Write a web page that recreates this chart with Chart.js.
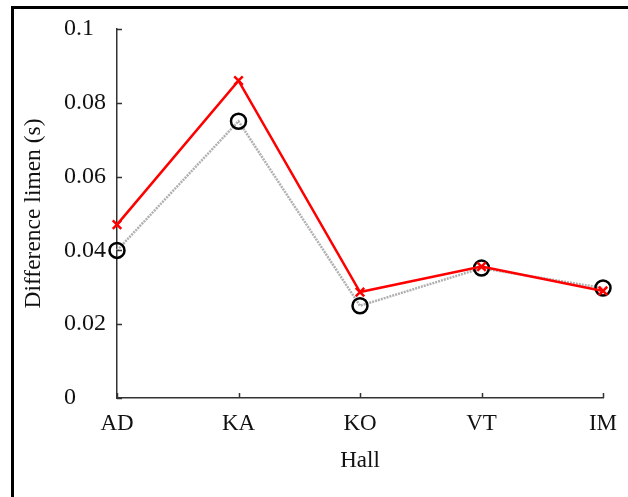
<!DOCTYPE html>
<html>
<head>
<meta charset="utf-8">
<script src="https://cdn.jsdelivr.net/npm/chart.js@4"></script>
<style>
  body{margin:0;background:#fff;overflow:hidden;}
  #wrap{width:628px;height:497px;position:relative;}
</style>
</head>
<body>
<div id="wrap"><canvas id="chart" width="628" height="497"></canvas></div>
<script>
let halls = ["AD","KA","KO","VT","IM"];
let redValues = [0.047,0.086,0.0287,0.0356,0.0290];
let grayValues = [0.040,0.075,0.0250,0.0352,0.0298];
let yTickLabels = ["0","0.02","0.04","0.06","0.08","0.1"];
let yTitle = "Difference limen (s)";
let xTitle = "Hall";

const serif = "'Liberation Serif','Times New Roman',serif";
const axisColor = "#333";

// frame, inward ticks and y title
const extras = {
    id:"extras",
    beforeDraw(chart){
        let ctx = chart.ctx;
        ctx.save();
        ctx.fillStyle = "#000";
        ctx.fillRect(11,6,3,491);
        ctx.fillRect(11,6,617,3);
        ctx.restore();
    },
    afterDraw(chart){
        let ctx = chart.ctx;
        let area = chart.chartArea;
        let x = chart.scales.x, y = chart.scales.y;
        ctx.save();
        ctx.strokeStyle = axisColor;
        ctx.lineWidth = 1.5;
        ctx.beginPath();
        y.ticks.forEach(t=>{
            let py = Math.round(y.getPixelForValue(t.value))+0.5;
            ctx.moveTo(area.left,py);
            ctx.lineTo(area.left+5,py);
        });
        halls.forEach((h,i)=>{
            let px = Math.round(x.getPixelForValue(i))+0.5;
            ctx.moveTo(px,area.bottom);
            ctx.lineTo(px,area.bottom-5);
        });
        ctx.stroke();

        ctx.fillStyle = "#111";
        ctx.font = "23.5px " + serif;
        ctx.textAlign = "center";
        ctx.textBaseline = "middle";
        ctx.translate(34,(area.top+area.bottom)/2);
        ctx.rotate(-Math.PI/2);
        ctx.fillText(yTitle,0,0);
        ctx.restore();
    }
};

new Chart(document.getElementById("chart"),{
    type:"line",
    data:{
        labels:halls,
        datasets:[
            {
                data:redValues,
                borderColor:"#ff0000",
                borderWidth:2.5,
                pointStyle:"crossRot",
                pointRadius:6,
                pointBorderColor:"#ff0000",
                pointBorderWidth:2.5,
                tension:0
            },
            {
                data:grayValues,
                borderColor:"#b0b0b0",
                borderWidth:2.5,
                borderDash:[2,1],
                pointStyle:"circle",
                pointRadius:7.5,
                pointBorderColor:"#000",
                pointBackgroundColor:"rgba(0,0,0,0)",
                pointBorderWidth:2.5,
                tension:0
            }
        ]
    },
    options:{
        responsive:false,
        animation:false,
        events:[],
        layout:{padding:{left:64,top:29,right:25,bottom:0}},
        plugins:{legend:{display:false},tooltip:{enabled:false}},
        scales:{
            x:{
                offset:false,
                grid:{display:false},
                border:{display:true,color:axisColor,width:1.5},
                ticks:{color:"#111",font:{family:serif,size:23},padding:4,maxRotation:0,autoSkip:false},
                title:{display:true,text:xTitle,color:"#111",font:{family:serif,size:23},padding:{top:4,bottom:22}},
                afterFit(s){ s.height = 99; }
            },
            y:{
                min:0,
                max:0.1,
                grid:{display:false},
                border:{display:true,color:axisColor,width:1.5},
                ticks:{
                    stepSize:0.02,
                    color:"#111",
                    font:{family:serif,size:24},
                    padding:6,
                    crossAlign:"far",
                    callback:(v,i)=>yTickLabels[i]
                },
                afterFit(s){ s.width = 53; }
            }
        }
    },
    plugins:[extras]
});
</script>
</body>
</html>
